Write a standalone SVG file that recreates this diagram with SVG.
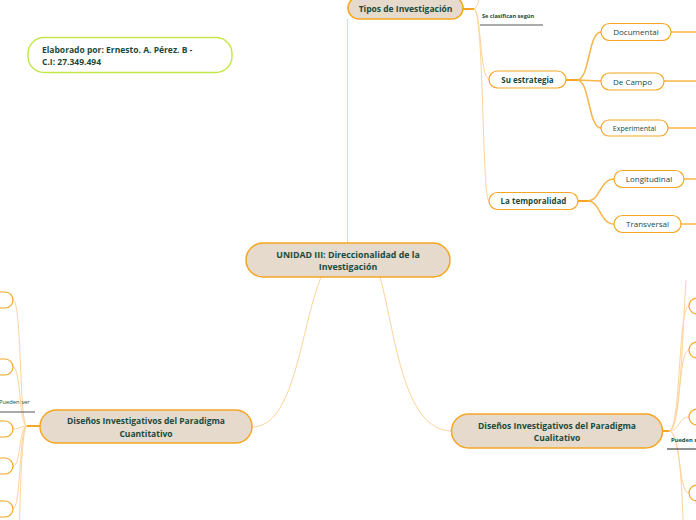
<svg xmlns="http://www.w3.org/2000/svg" width="696" height="520" viewBox="0 0 696 520">
<style>
.main{fill:#e5dacb;stroke:#f5a623;stroke-width:1.5}
.sub{fill:#ffffff;stroke:#f5a623;stroke-width:1.2}
.t{font-family:"Open Sans","Noto Sans",sans-serif;fill:#1b4a3c}
.b{font-weight:bold}
.thin{fill:none;stroke:#fdd39a;stroke-width:1}
.stub{fill:none;stroke:#f5a623;stroke-width:2}
.lead{fill:none;stroke:#f7b447;stroke-width:1.5}
</style>
<rect width="696" height="520" fill="#ffffff"/>
<g id="connectors">
<path class="thin" d="M347.5,243 V19"/>
<path class="stub" d="M463,9 H474"/>
<path class="thin" d="M474,9 C478,6 478,2 480,-2"/>
<path class="thin" d="M474,9 C481,9 480,79 489,79"/>
<path class="thin" d="M474,9 C484,9 482,201 489,201"/>
<path class="stub" d="M566,80 H577"/>
<path class="lead" d="M577,80 C590,80 588,32 601,32"/>
<path class="lead" d="M577,80 C589,80 590,81 601,81"/>
<path class="lead" d="M577,80 C590,80 588,128 601,128"/>
<path class="lead" d="M671,32 H696"/>
<path class="lead" d="M664,81 H696"/>
<path class="lead" d="M668,128 H696"/>
<path class="stub" d="M578,201 H588"/>
<path class="lead" d="M588,201 C600,201 600,179 614,179"/>
<path class="lead" d="M588,201 C600,201 600,224 614,224"/>
<path class="lead" d="M684,179 H696"/>
<path class="lead" d="M681,224 H696"/>
<path class="thin" d="M321,277 C300,330 295,427 252,427"/>
<path class="thin" d="M380,277 C395,330 402,431 452,431"/>
<path class="stub" d="M40,426 H27"/>
<path class="thin" d="M27,426 C19,426 22,300 13,300"/>
<path class="thin" d="M27,426 C19,426 21,367 13,367"/>
<path class="thin" d="M27,426 C20,426 20,429 13,429"/>
<path class="thin" d="M27,426 C19,426 21,466 13,466"/>
<path class="thin" d="M27,426 C19,426 21,509 13,509"/>
<path class="thin" d="M27,426 C20,426 20,540 18,560"/>
<path class="stub" d="M662,431 H669"/>
<path class="thin" d="M669,431 C681,431 678,306 689,306"/>
<path class="thin" d="M669,431 C681,431 678,350 689,350"/>
<path class="thin" d="M669,431 C680,431 678,417 689,417"/>
<path class="thin" d="M669,431 C681,431 678,493 689,493"/>
<path class="thin" d="M669,431 C681,431 682,500 684,540"/>
<path class="thin" d="M669,431 C681,431 683,320 686,280"/>
</g>
<g id="elaborado">
<rect x="28" y="37.5" width="204" height="35" rx="16" fill="#ffffff" stroke="#c4e84a" stroke-width="1.5"/>
<text class="t b" x="42" y="53" font-size="8.5">Elaborado por: Ernesto. A. Pérez. B -</text>
<text class="t b" x="42" y="65" font-size="8.5">C.I: 27.349.494</text>
</g>
<g id="central">
<rect class="main" x="246" y="243" width="204" height="34" rx="17"/>
<text class="t b" x="348" y="257.5" font-size="8.8" text-anchor="middle">UNIDAD III: Direccionalidad de la</text>
<text class="t b" x="348" y="270" font-size="8.8" text-anchor="middle">Investigación</text>
</g>
<g id="tipos">
<rect class="main" x="348" y="-3" width="115" height="22" rx="11"/>
<text class="t b" x="405.5" y="12" font-size="8.5" text-anchor="middle">Tipos de Investigación</text>
</g>
<g id="se-clasifican">
<text class="t b" x="482" y="17.5" font-size="5.6">Se clasifican según</text>
<line x1="480" y1="25" x2="543" y2="25" stroke="#8f8f8f" stroke-width="1.5"/>
</g>
<g id="estrategia">
<rect class="sub" x="489" y="71" width="77" height="17" rx="8.5"/>
<text class="t b" x="527.5" y="82.5" font-size="8" text-anchor="middle">Su estrategia</text>
</g>
<g id="documental">
<rect class="sub" x="601" y="23.5" width="70" height="17" rx="8.5"/>
<text class="t" x="636" y="35" font-size="8" text-anchor="middle">Documental</text>
</g>
<g id="decampo">
<rect class="sub" x="601" y="73" width="63" height="17" rx="8.5"/>
<text class="t" x="632.5" y="84.5" font-size="8" text-anchor="middle">De Campo</text>
</g>
<g id="experimental">
<rect class="sub" x="601" y="120" width="67" height="16" rx="8"/>
<text class="t" x="634.5" y="131" font-size="7" text-anchor="middle">Experimental</text>
</g>
<g id="temporalidad">
<rect class="sub" x="489" y="192.5" width="89" height="17" rx="8.5"/>
<text class="t b" x="533.5" y="204" font-size="8" text-anchor="middle">La temporalidad</text>
</g>
<g id="longitudinal">
<rect class="sub" x="614" y="170.5" width="70" height="17" rx="8.5"/>
<text class="t" x="649" y="182" font-size="8" text-anchor="middle">Longitudinal</text>
</g>
<g id="transversal">
<rect class="sub" x="614" y="215.5" width="67" height="17" rx="8.5"/>
<text class="t" x="647.5" y="227" font-size="8" text-anchor="middle">Transversal</text>
</g>
<g id="cuantitativo">
<rect class="main" x="40" y="410" width="212" height="33" rx="16.5"/>
<text class="t b" x="146" y="424" font-size="8.5" text-anchor="middle">Diseños Investigativos del Paradigma</text>
<text class="t b" x="146" y="436.5" font-size="8.5" text-anchor="middle">Cuantitativo</text>
</g>
<g id="pueden-izq">
<text class="t" x="-1" y="404" font-size="5.8">Pueden ser</text>
<line x1="0" y1="412" x2="35" y2="412" stroke="#555" stroke-width="1"/>
</g>
<g id="izq-nodos">
<rect class="sub" x="-60" y="292" width="73" height="16" rx="8"/>
<rect class="sub" x="-60" y="359" width="73" height="16" rx="8"/>
<rect class="sub" x="-60" y="421" width="73" height="16" rx="8"/>
<rect class="sub" x="-60" y="458" width="73" height="16" rx="8"/>
<rect class="sub" x="-60" y="501" width="73" height="16" rx="8"/>
</g>
<g id="cualitativo">
<rect class="main" x="451.5" y="414" width="211" height="34" rx="17"/>
<text class="t b" x="557" y="428.5" font-size="8.5" text-anchor="middle">Diseños Investigativos del Paradigma</text>
<text class="t b" x="557" y="441" font-size="8.5" text-anchor="middle">Cualitativo</text>
</g>
<g id="pueden-der">
<text class="t b" x="671" y="442" font-size="5.8">Pueden ser</text>
<line x1="667" y1="449" x2="696" y2="449" stroke="#222" stroke-width="1"/>
</g>
<g id="der-nodos">
<rect class="sub" x="689" y="298" width="60" height="16" rx="8"/>
<rect class="sub" x="689" y="342" width="60" height="16" rx="8"/>
<rect class="sub" x="689" y="409" width="60" height="16" rx="8"/>
<rect class="sub" x="689" y="485" width="60" height="16" rx="8"/>
</g>
</svg>
